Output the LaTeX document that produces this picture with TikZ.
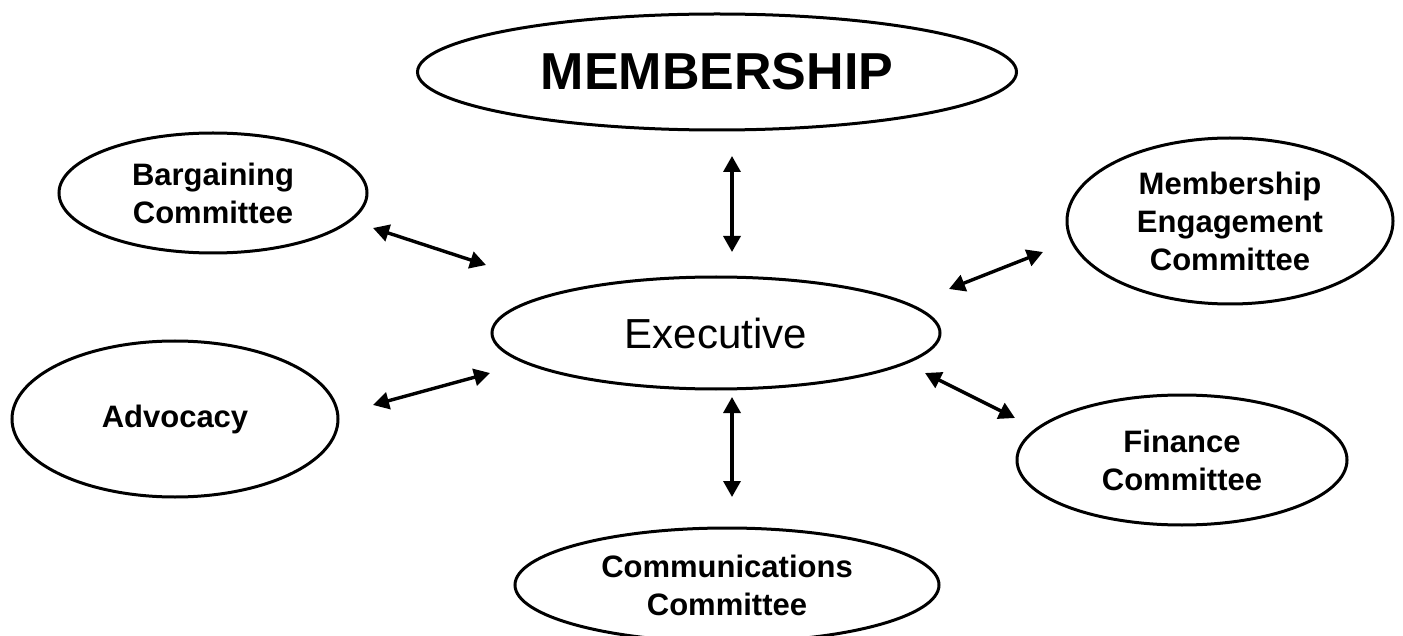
\documentclass[tikz,border=0pt]{standalone}
\usepackage{fontspec}
\setmainfont{Liberation Sans}
\usetikzlibrary{arrows.meta,shapes.geometric}

\begin{document}
\begin{tikzpicture}[x=1pt,y=-1pt,
  oval/.style={draw, ellipse, line width=3pt, inner sep=0pt, align=center},
  lbl/.style={font=\fontsize{31}{38}\selectfont\bfseries},
  biarrow/.style={line width=3.4pt,
    {Triangle[length=16pt,width=17pt]}-{Triangle[length=16pt,width=17pt]}}
]
\useasboundingbox (0,0) rectangle (1403,636);
\clip (0,0) rectangle (1403,636);

% committees and bodies
\node[oval, minimum width=599pt, minimum height=116pt,
      font=\fontsize{52}{60}\selectfont\bfseries] (mem) at (717,72) {MEMBERSHIP};
\node[oval, minimum width=448pt, minimum height=112pt,
      font=\fontsize{42}{48}\selectfont] (exec) at (716,333) {Executive};
\node[oval, lbl, minimum width=308pt, minimum height=120pt] (barg) at (213,193)
      {Bargaining\\Committee};
\node[oval, lbl, minimum width=326pt, minimum height=166pt] (mec) at (1230,221)
      {Membership\\Engagement\\Committee};
\node[oval, lbl, minimum width=326pt, minimum height=156pt] (adv) at (175,419)
      {Advocacy};
\node[oval, lbl, minimum width=330pt, minimum height=130pt] (fin) at (1182,460)
      {Finance\\Committee};
\node[oval, lbl, minimum width=424pt, minimum height=114pt] (comm) at (727,585)
      {Communications\\Committee};

% arrow end points
\coordinate (memA) at (732,156);  \coordinate (memB) at (732,252);
\coordinate (bargA) at (373,228); \coordinate (bargB) at (486,265);
\coordinate (mecA) at (1043,252); \coordinate (mecB) at (949,289);
\coordinate (advA) at (373,405);  \coordinate (advB) at (490,373);
\coordinate (finA) at (1015,418); \coordinate (finB) at (925,373);
\coordinate (commA) at (732,497); \coordinate (commB) at (732,397);

% two-way links with the executive
\draw[biarrow] (memA) -- (memB);
\draw[biarrow] (bargA) -- (bargB);
\draw[biarrow] (mecA) -- (mecB);
\draw[biarrow] (advA) -- (advB);
\draw[biarrow] (finA) -- (finB);
\draw[biarrow] (commA) -- (commB);
\end{tikzpicture}
\end{document}
